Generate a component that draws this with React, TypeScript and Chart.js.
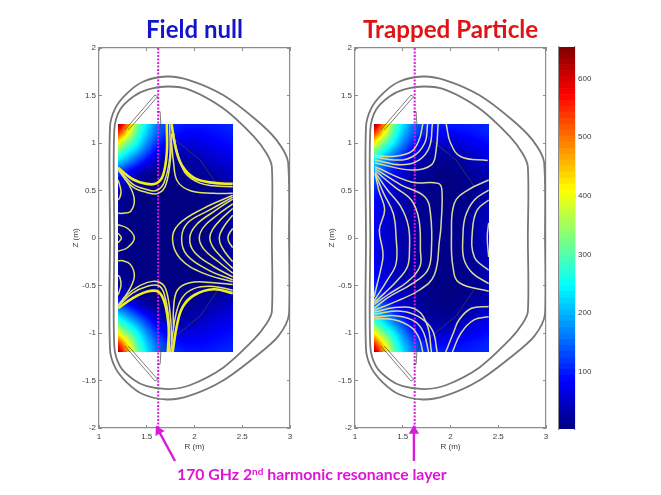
import React, { useEffect, useRef } from "react";
import { Chart, registerables } from "chart.js";

Chart.register(...registerables);

// ---------- axes ----------
const rTicks = [1, 1.5, 2, 2.5, 3];
const zTicks = [-2, -1.5, -1, -0.5, 0, 0.5, 1, 1.5, 2];
const colorTicks = [100, 200, 300, 400, 500, 600];
const colorMin = 2;
const colorMax = 654;
const resonanceR = [1.62, 1.625];

// ---------- field grid ----------
const heatR = [1.2, 1.3, 1.4, 1.5, 1.6, 1.7, 1.8, 1.9, 2.0, 2.1, 2.2, 2.3, 2.4];
const heatZ = [1.2, 1.1, 1.0, 0.9, 0.8, 0.7, 0.6, 0.5, 0.4, 0.3, 0.2, 0.1, 0, -0.1, -0.2, -0.3, -0.4, -0.5, -0.6, -0.7, -0.8, -0.9, -1.0, -1.1, -1.2];

const fieldNull = [
  [654, 490, 320, 235, 165, 125, 110, 100, 97, 97, 100, 105, 110],
  [540, 410, 290, 210, 150, 110, 90, 82, 82, 85, 90, 95, 100],
  [400, 320, 250, 175, 115, 80, 62, 60, 62, 70, 78, 85, 90],
  [310, 240, 190, 130, 75, 45, 35, 36, 42, 52, 62, 70, 78],
  [215, 170, 120, 75, 35, 18, 14, 18, 26, 36, 46, 56, 64],
  [130, 90, 50, 22, 8, 6, 6, 9, 14, 22, 30, 38, 46],
  [70, 35, 14, 5, 3, 3, 3, 5, 8, 12, 17, 24, 30],
  [38, 16, 5, 3, 2, 2, 2, 3, 4, 6, 10, 14, 22],
  [22, 8, 3, 2, 2, 2, 2, 2, 3, 4, 7, 11, 18],
  [14, 5, 2, 2, 2, 2, 2, 2, 2, 3, 5, 9, 16],
  [10, 4, 2, 2, 2, 2, 2, 2, 2, 2, 4, 8, 18],
  [8, 3, 2, 2, 2, 2, 2, 2, 2, 2, 4, 8, 20],
  [7, 3, 2, 2, 2, 2, 2, 2, 2, 2, 4, 8, 20],
  [8, 3, 2, 2, 2, 2, 2, 2, 2, 2, 4, 8, 20],
  [10, 4, 2, 2, 2, 2, 2, 2, 2, 2, 4, 8, 18],
  [14, 5, 2, 2, 2, 2, 2, 2, 2, 3, 5, 9, 16],
  [22, 8, 3, 2, 2, 2, 2, 2, 3, 4, 7, 11, 18],
  [38, 16, 5, 3, 2, 2, 2, 3, 4, 6, 10, 14, 22],
  [70, 35, 14, 5, 3, 3, 3, 5, 8, 12, 17, 24, 30],
  [130, 90, 50, 22, 8, 6, 6, 9, 14, 22, 30, 38, 46],
  [215, 170, 120, 75, 35, 18, 14, 18, 26, 36, 46, 56, 64],
  [310, 240, 190, 130, 75, 45, 35, 36, 42, 52, 62, 70, 78],
  [400, 320, 250, 175, 115, 80, 62, 60, 62, 70, 78, 85, 90],
  [540, 410, 290, 210, 150, 110, 90, 82, 82, 85, 90, 95, 100],
  [640, 480, 320, 235, 165, 125, 110, 100, 97, 97, 100, 105, 110],
];

const fieldTrapped = [
  [654, 490, 320, 235, 165, 125, 110, 102, 100, 100, 102, 105, 110],
  [540, 410, 290, 205, 145, 105, 85, 78, 78, 85, 92, 98, 105],
  [410, 320, 245, 170, 110, 72, 55, 48, 50, 60, 70, 80, 88],
  [310, 240, 180, 125, 75, 45, 30, 25, 28, 38, 50, 62, 72],
  [230, 175, 125, 85, 50, 26, 15, 10, 12, 20, 32, 45, 55],
  [180, 125, 90, 58, 32, 16, 8, 5, 5, 10, 18, 28, 38],
  [140, 90, 65, 42, 24, 14, 6, 3, 2, 4, 10, 18, 30],
  [105, 72, 50, 34, 20, 12, 6, 3, 2, 4, 8, 16, 30],
  [90, 62, 45, 30, 20, 12, 7, 4, 3, 5, 10, 20, 35],
  [85, 60, 42, 30, 20, 12, 7, 5, 4, 7, 12, 24, 40],
  [80, 58, 40, 28, 20, 13, 8, 5, 5, 8, 15, 28, 45],
  [76, 56, 40, 28, 20, 13, 8, 6, 6, 9, 18, 30, 45],
  [75, 55, 40, 28, 20, 13, 8, 6, 6, 9, 18, 30, 45],
  [76, 56, 40, 28, 20, 13, 8, 6, 6, 9, 18, 30, 45],
  [80, 58, 40, 28, 20, 13, 8, 5, 5, 8, 15, 28, 45],
  [85, 60, 42, 30, 20, 12, 7, 5, 4, 7, 12, 24, 40],
  [90, 62, 45, 30, 20, 12, 7, 4, 3, 5, 10, 20, 35],
  [105, 72, 50, 34, 20, 12, 6, 3, 2, 4, 8, 16, 30],
  [140, 90, 65, 42, 24, 14, 6, 3, 2, 4, 10, 18, 30],
  [180, 125, 90, 58, 32, 16, 8, 5, 5, 10, 18, 28, 38],
  [230, 175, 125, 85, 50, 26, 15, 10, 12, 20, 32, 45, 55],
  [310, 240, 180, 125, 75, 45, 30, 25, 28, 38, 50, 62, 72],
  [410, 320, 245, 170, 110, 72, 55, 48, 50, 60, 70, 80, 88],
  [540, 410, 290, 205, 145, 105, 85, 78, 78, 85, 92, 98, 105],
  [640, 480, 320, 235, 165, 125, 110, 102, 100, 100, 102, 105, 110],
];

// ---------- vessel (R, Z flat pairs) ----------
const outerWall = [
  1.115, 0, 1.115, 1.17, 1.17, 1.365, 1.29, 1.52, 1.46, 1.645, 1.71, 1.7, 1.95, 1.66, 2.3, 1.505, 2.65, 1.24, 2.86, 1.03, 2.98, 0.8, 2.99, 0,
  2.99, -0.8, 2.88, -1.03, 2.65, -1.24, 2.3, -1.5, 1.95, -1.66, 1.71, -1.7, 1.46, -1.645, 1.29, -1.52, 1.17, -1.365, 1.115, -1.17, 1.115, 0,
];
const innerWall = [
  1.16, 0, 1.16, 1.137, 1.22, 1.35, 1.36, 1.49, 1.5, 1.56, 1.725, 1.595, 1.95, 1.56, 2.3, 1.365, 2.62, 1.07, 2.755, 0.89, 2.81, 0.75, 2.81, 0,
  2.81, -0.775, 2.755, -0.9, 2.62, -1.07, 2.3, -1.365, 1.95, -1.55, 1.725, -1.59, 1.5, -1.56, 1.36, -1.49, 1.22, -1.35, 1.16, -1.137, 1.16, 0,
];
const structures = [
  [1.27, 1.137, 1.586, 1.505, 1.614, 1.488, 1.307, 1.137],
  [1.27, -1.137, 1.586, -1.505, 1.614, -1.488, 1.307, -1.137],
  [1.61, 1.33, 1.64, 1.33, 1.65, 1.155, 2.06, 0.82, 2.25, 0.54],
  [1.61, -1.33, 1.64, -1.33, 1.65, -1.155, 2.06, -0.82, 2.25, -0.54],
];

// ---------- flux lines, Field null ----------
const nullStrong = [
  [1.2, 0.74, 1.35, 0.62, 1.5, 0.57, 1.6, 0.575, 1.67, 0.66, 1.71, 0.9, 1.71, 1.2],
  [1.76, 1.2, 1.8, 0.96, 1.87, 0.76, 2.0, 0.63, 2.2, 0.58, 2.4, 0.57],
  [1.2, -0.74, 1.35, -0.635, 1.5, -0.565, 1.62, -0.565, 1.69, -0.69, 1.73, -0.95, 1.72, -1.2],
  [1.77, -1.2, 1.82, -0.9, 1.88, -0.72, 2.0, -0.6, 2.2, -0.54, 2.4, -0.58],
];
const nullLines = [
  [1.2, 0.73, 1.35, 0.57, 1.5, 0.51, 1.6, 0.5, 1.68, 0.58, 1.74, 0.85, 1.74, 1.2],
  [1.2, 0.72, 1.35, 0.54, 1.5, 0.48, 1.62, 0.47, 1.7, 0.56, 1.75, 0.85, 1.76, 1.1],
  [1.78, 1.1, 1.82, 0.9, 1.9, 0.69, 2.05, 0.58, 2.2, 0.55, 2.4, 0.54],
  [1.76, 1.0, 1.78, 0.8, 1.82, 0.6, 1.95, 0.5, 2.2, 0.47, 2.4, 0.47],
  [1.2, 0.61, 1.23, 0.5, 1.22, 0.43, 1.2, 0.4],
  [1.2, 0.72, 1.32, 0.55, 1.37, 0.4, 1.33, 0.28, 1.25, 0.26, 1.2, 0.26],
  [1.2, 0.14, 1.3, 0.1, 1.37, 0, 1.3, -0.1, 1.2, -0.14],
  [1.2, 0.05, 1.235, 0, 1.2, -0.05],
  [1.2, -0.72, 1.35, -0.58, 1.5, -0.51, 1.62, -0.5, 1.68, -0.58, 1.73, -0.85, 1.74, -1.2],
  [1.2, -0.71, 1.35, -0.55, 1.5, -0.47, 1.62, -0.46, 1.7, -0.54, 1.75, -0.85, 1.76, -1.1],
  [2.4, -0.55, 2.2, -0.51, 2.0, -0.53, 1.87, -0.63, 1.8, -0.83, 1.75, -1.2],
  [2.4, -0.49, 2.2, -0.47, 1.95, -0.47, 1.82, -0.55, 1.78, -0.75, 1.78, -0.95],
  [1.2, -0.6, 1.23, -0.5, 1.22, -0.42, 1.2, -0.39],
  [1.2, -0.71, 1.32, -0.54, 1.37, -0.4, 1.33, -0.28, 1.25, -0.24, 1.2, -0.24],
  [2.4, 0.45, 2.09, 0.31, 1.83, 0.14, 1.77, -0.02, 1.85, -0.215, 2.09, -0.37, 2.4, -0.46],
  [2.4, 0.43, 2.15, 0.29, 1.93, 0.16, 1.865, 0, 1.92, -0.18, 2.15, -0.34, 2.4, -0.44],
  [2.4, 0.41, 2.22, 0.29, 2.02, 0.14, 1.95, 0, 2.0, -0.15, 2.2, -0.3, 2.4, -0.41],
  [2.4, 0.36, 2.25, 0.25, 2.1, 0.12, 2.05, 0, 2.1, -0.12, 2.25, -0.25, 2.4, -0.37],
  [2.4, 0.31, 2.28, 0.2, 2.19, 0.09, 2.16, 0, 2.19, -0.09, 2.28, -0.2, 2.4, -0.32],
  [2.4, 0.24, 2.32, 0.14, 2.27, 0.05, 2.26, 0, 2.27, -0.06, 2.32, -0.15, 2.4, -0.25],
  [2.4, 0.1, 2.36, 0.04, 2.35, 0, 2.36, -0.04, 2.4, -0.1],
];

// ---------- flux lines, Trapped Particle ----------
const trappedLines = [
  [1.21, 0.87, 1.41, 0.86, 1.59, 0.91, 1.67, 1.03, 1.71, 1.2],
  [1.21, 0.855, 1.41, 0.82, 1.6, 0.855, 1.73, 1.0, 1.76, 1.2],
  [1.21, 0.82, 1.48, 0.77, 1.67, 0.82, 1.78, 0.96, 1.81, 1.2],
  [1.21, 0.79, 1.59, 0.715, 1.8, 0.77, 1.85, 0.93, 1.87, 1.2],
  [1.21, 0.75, 1.59, 0.59, 1.87, 0.575, 1.91, 0.505, 1.9, 0.12, 1.885, -0.02, 1.83, -0.39, 1.67, -0.55, 1.4, -0.68, 1.2, -0.76],
  [1.21, 0.73, 1.48, 0.56, 1.73, 0.435, 1.79, 0.26, 1.8, -0.13, 1.76, -0.34, 1.6, -0.48, 1.34, -0.63, 1.2, -0.74],
  [1.21, 0.71, 1.41, 0.54, 1.59, 0.4, 1.67, 0.19, 1.685, -0.13, 1.68, -0.3, 1.55, -0.46, 1.34, -0.6, 1.2, -0.7],
  [1.21, 0.69, 1.34, 0.505, 1.48, 0.33, 1.56, 0.12, 1.57, -0.13, 1.55, -0.3, 1.45, -0.44, 1.31, -0.58, 1.2, -0.68],
  [1.21, 0.68, 1.3, 0.47, 1.4, 0.26, 1.43, 0.01, 1.43, -0.27, 1.34, -0.44, 1.2, -0.66],
  [1.21, 0.68, 1.25, 0.5, 1.31, 0.295, 1.255, 0.085, 1.29, -0.13, 1.29, -0.23, 1.2, -0.62],
  [1.955, 1.2, 2.0, 1.0, 2.11, 0.855, 2.39, 0.815],
  [2.4, 0.61, 2.18, 0.505, 2.04, 0.365, 2.01, 0.01, 2.025, -0.3, 2.09, -0.47, 2.4, -0.56],
  [2.4, 0.505, 2.25, 0.4, 2.155, 0.225, 2.13, 0.01, 2.14, -0.22, 2.23, -0.37, 2.4, -0.48],
  [2.4, 0.4, 2.28, 0.295, 2.23, 0.085, 2.25, -0.2, 2.4, -0.34],
  [2.4, 0.16, 2.385, 0.01, 2.4, -0.2],
  [2.4, -0.72, 2.22, -0.74, 2.09, -0.86, 2.03, -1.0, 1.95, -1.2],
  [2.4, -0.83, 2.25, -0.86, 2.11, -1.0, 2.02, -1.2],
  [1.2, -0.78, 1.45, -0.73, 1.65, -0.76, 1.76, -0.93, 1.8, -1.2],
  [1.2, -0.8, 1.48, -0.77, 1.67, -0.83, 1.81, -0.97, 1.86, -1.2],
  [1.2, -0.83, 1.44, -0.82, 1.63, -0.88, 1.72, -1.0, 1.77, -1.2],
  [1.2, -0.85, 1.41, -0.86, 1.59, -0.94, 1.67, -1.05, 1.71, -1.2],
];

// ---------- annotation arrows ----------
const arrowNull = [1.796, -2.347, 1.625, -2.03];
const arrowTrapped = [1.617, -2.347, 1.617, -2.03];

// ---------- colour bar segments ----------
const colorSteps = [
  2, 12, 22, 33, 43, 53, 63, 73, 84, 94, 104, 114, 124, 135, 145, 155, 165, 175, 186, 196, 206, 216, 226, 237, 247, 257, 267, 277, 288, 298, 308, 318, 328,
  339, 349, 359, 369, 379, 390, 400, 410, 420, 430, 441, 451, 461, 471, 481, 492, 502, 512, 522, 532, 543, 553, 563, 573, 583, 594, 604, 614, 624, 634, 644, 654,
];

const jetStops: [number, number, number, number][] = [
  [0, 0, 0, 130],
  [0.125, 0, 0, 255],
  [0.375, 0, 255, 255],
  [0.625, 255, 255, 0],
  [0.875, 255, 0, 0],
  [1, 128, 0, 0],
];

function jet(v: number) {
  const t = Math.min(1, Math.max(0, (v - colorMin) / (colorMax - colorMin)));
  for (let i = 1; i < jetStops.length; i++) {
    if (t <= jetStops[i][0]) {
      const a = jetStops[i - 1];
      const b = jetStops[i];
      const f = (t - a[0]) / (b[0] - a[0]);
      return `rgb(${a[1] + (b[1] - a[1]) * f},${a[2] + (b[2] - a[2]) * f},${a[3] + (b[3] - a[3]) * f})`;
    }
  }
  return "rgb(128,0,0)";
}

const pts = (flat: number[]) => {
  const out: { x: number; y: number }[] = [];
  for (let i = 0; i < flat.length; i += 2) out.push({ x: flat[i], y: flat[i + 1] });
  return out;
};

function sampleField(grid: number[][], r: number, z: number) {
  const cf = Math.min(heatR.length - 1.0001, Math.max(0, (r - heatR[0]) / 0.1));
  const rf = Math.min(heatZ.length - 1.0001, Math.max(0, (heatZ[0] - z) / 0.1));
  const c = Math.floor(cf);
  const w = Math.floor(rf);
  const u = cf - c;
  const v = rf - w;
  return (
    grid[w][c] * (1 - u) * (1 - v) + grid[w][c + 1] * u * (1 - v) + grid[w + 1][c] * (1 - u) * v + grid[w + 1][c + 1] * u * v
  );
}

const heatPlugin = (grid: number[][]) => ({
  id: "heatField",
  beforeDatasetsDraw(chart: any) {
    const { ctx, scales } = chart;
    const x0 = Math.round(scales.x.getPixelForValue(heatR[0]));
    const x1 = Math.round(scales.x.getPixelForValue(heatR[heatR.length - 1]));
    const y0 = Math.round(scales.y.getPixelForValue(heatZ[0]));
    const y1 = Math.round(scales.y.getPixelForValue(heatZ[heatZ.length - 1]));
    ctx.save();
    for (let px = x0; px < x1; px++) {
      for (let py = y0; py < y1; py++) {
        ctx.fillStyle = jet(sampleField(grid, scales.x.getValueForPixel(px + 0.5), scales.y.getValueForPixel(py + 0.5)));
        ctx.fillRect(px, py, 1, 1);
      }
    }
    ctx.restore();
  },
});

const AXIS = "#8c8c8c";
const LABEL = "#3c3c3c";
const FONT = "'Liberation Sans', Arial, sans-serif";

const fixedSize = (prop: "width" | "height", size: number) => (scale: any) => {
  scale[prop] = size;
};
const setTicks = (values: number[]) => (scale: any) => {
  scale.ticks = values.map((value) => ({ value }));
};

function axis(position: string, min: number, max: number, values: number[], size: number, title?: string, labels = true, color = AXIS) {
  const horizontal = position === "top" || position === "bottom";
  return {
    type: "linear",
    axis: horizontal ? "x" : "y",
    position,
    min,
    max,
    afterBuildTicks: setTicks(values),
    afterFit: fixedSize(horizontal ? "height" : "width", size),
    border: { display: true, color: AXIS, width: 1.2 },
    grid: { drawOnChartArea: false, drawTicks: true, tickLength: -3, color, lineWidth: 1 },
    ticks: {
      display: labels,
      autoSkip: false,
      maxRotation: 0,
      minRotation: 0,
      padding: horizontal ? 7 : 6,
      color: LABEL,
      font: { family: FONT, size: 8 },
      callback: (value: number) => String(value),
    },
    title: title
      ? { display: true, text: title, color: LABEL, padding: 0, font: { family: FONT, size: 8 } }
      : { display: false },
  };
}

function panelConfig(grid: number[][], left: number, right: number, strong: number[][], thin: number[][], thinColor: string, arrow: number[], resonance: number): any {
  const line = (flat: number[], color: string, width: number, tension: number, extra: any = {}) => ({
    data: pts(flat),
    borderColor: color,
    backgroundColor: color,
    borderWidth: width,
    pointRadius: 0,
    showLine: true,
    tension,
    ...extra,
  });
  const datasets: any[] = [
    ...thin.map((f) => line(f, thinColor, 1.5, 0.4)),
    ...strong.map((f) => line(f, "#f0f020", 2.6, 0.4)),
    ...strong.map((f) => line(f, "#9a9a5a", 0.7, 0.4)),
    line(outerWall, "#777777", 1.8, 0.3),
    line(innerWall, "#777777", 1.8, 0.3),
    ...structures.map((f) => line(f, "#444444", 0.7, 0)),
    line([resonance, 2, resonance, -2], "#d81cd8", 2, 0, { borderDash: [2, 1.5], clip: false }),
    line(arrow, "#d81cd8", 2.4, 0, {
      clip: false,
      pointRadius: [0, 3.6],
      pointStyle: "triangle",
      rotation: (Math.atan2(arrow[2] - arrow[0], arrow[3] - arrow[1]) * 180) / Math.PI,
    }),
  ];
  return {
    type: "scatter",
    data: { datasets },
    plugins: [heatPlugin(grid)],
    options: {
      animation: false,
      responsive: false,
      events: [],
      layout: { padding: { left: left - 28, right: 661 - right, top: 48, bottom: 495 - 428 - 24 } },
      plugins: { legend: { display: false }, tooltip: { enabled: false } },
      scales: {
        x: axis("bottom", 1, 3, rTicks, 24, "R (m)"),
        xTop: axis("top", 1, 3, rTicks, 0, undefined, false),
        y: axis("left", -2, 2, zTicks, 28, "Z (m)"),
        yRight: axis("right", -2, 2, zTicks, 0, undefined, false),
      },
    },
  };
}

function colorbarConfig(): any {
  const datasets = colorSteps.slice(0, -1).map((lo, i) => ({
    data: [[lo, colorSteps[i + 1]]],
    backgroundColor: jet((lo + colorSteps[i + 1]) / 2),
    borderWidth: 0,
    barPercentage: 1,
    categoryPercentage: 1,
    grouped: false,
  }));
  return {
    type: "bar",
    data: { labels: ["level"], datasets },
    options: {
      animation: false,
      responsive: false,
      events: [],
      layout: { padding: { left: 559, right: 661 - 575 - 30, top: 47, bottom: 495 - 429 } },
      plugins: { legend: { display: false }, tooltip: { enabled: false } },
      scales: {
        x: { display: false },
        y: { ...axis("right", colorMin, colorMax, colorTicks, 30, undefined, true, "#333333"), z: 5 },
        yLeft: { ...axis("left", colorMin, colorMax, colorTicks, 0, undefined, false, "#333333"), z: 5 },
      },
    },
  };
}

const layer: React.CSSProperties = { position: "absolute", left: 0, top: 0, filter: "blur(0.4px)" };
const heading = (left: number, top: number, size: number, color: string): React.CSSProperties => ({
  position: "absolute",
  left,
  top,
  margin: 0,
  fontFamily: "Lato, sans-serif",
  fontWeight: 700,
  fontSize: size,
  lineHeight: 1,
  whiteSpace: "nowrap",
  color,
});

export default function App() {
  const a = useRef<HTMLCanvasElement>(null);
  const b = useRef<HTMLCanvasElement>(null);
  const c = useRef<HTMLCanvasElement>(null);
  useEffect(() => {
    const charts = [
      new Chart(a.current!, panelConfig(fieldNull, 99, 290, nullStrong, nullLines, "#e2e26a", arrowNull, resonanceR[0])),
      new Chart(b.current!, panelConfig(fieldTrapped, 355, 546, [], trappedLines, "#d8d8a0", arrowTrapped, resonanceR[1])),
      new Chart(c.current!, colorbarConfig()),
    ];
    return () => charts.forEach((ch) => ch.destroy());
  }, []);
  return (
    <div style={{ position: "fixed", left: 0, top: 0, width: 661, height: 495, background: "#fff", overflow: "hidden" }}>
      <canvas ref={a} width={661} height={495} style={layer} />
      <canvas ref={b} width={661} height={495} style={layer} />
      <canvas ref={c} width={661} height={495} style={layer} />
      <div style={heading(146, 17, 24, "#1414cc")}>Field null</div>
      <div style={heading(363, 17, 24.2, "#e01414")}>Trapped Particle</div>
      <div style={heading(177, 466, 15.8, "#e014d8")}>
        170 GHz 2<sup style={{ fontSize: 10, verticalAlign: "5px", lineHeight: 0 }}>nd</sup> harmonic resonance layer
      </div>
    </div>
  );
}
